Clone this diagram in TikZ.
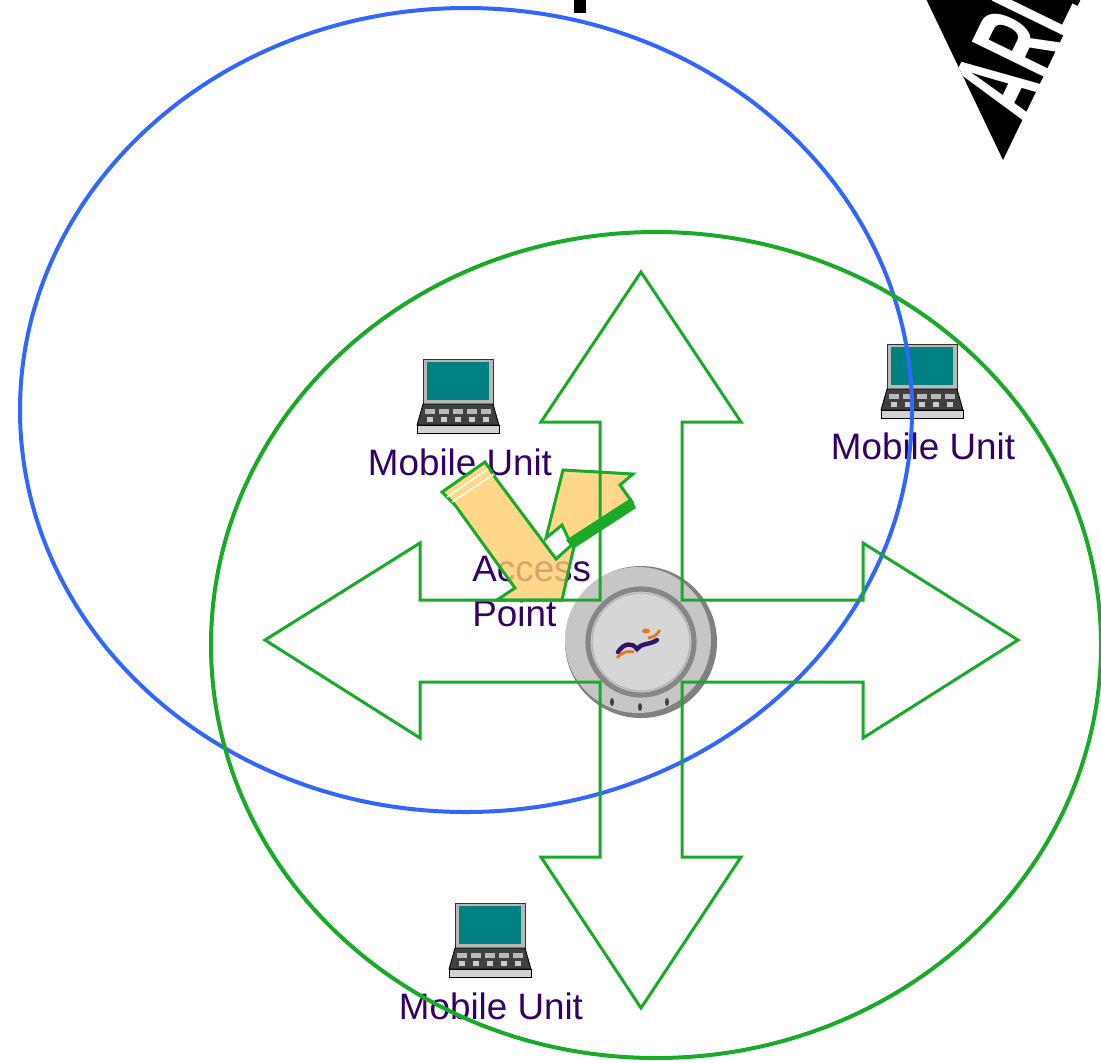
\documentclass[tikz,border=0pt]{standalone}
\usepackage{fontspec}
\setmainfont{Liberation Sans}
\usetikzlibrary{positioning}
\definecolor{cellgreen}{RGB}{24,170,40}
\definecolor{cellblue}{RGB}{51,102,255}
\definecolor{labelpurple}{RGB}{51,0,102}
\definecolor{screenteal}{RGB}{0,128,128}
\definecolor{antennaorange}{RGB}{255,205,110}
\definecolor{swooshpurple}{RGB}{50,20,110}
\definecolor{swooshorange}{RGB}{225,120,30}

\begin{document}
\begin{tikzpicture}[x=0.5pt, y=-0.5pt,
  cell/.style={line width=2pt},
  unit/.style={text=labelpurple, inner sep=0pt, font=\fontsize{18.4}{22.5}\selectfont},
  spread/.style={draw=cellgreen, line width=1.5pt, line join=miter},
  antenna/.style={draw=cellgreen, line width=1.5pt, fill=antennaorange, fill opacity=0.8},
  laptop/.pic={
    \filldraw[fill=gray!55, draw=black!80, line width=0.4pt] (-35,-38) rectangle (35,7);
    \fill[screenteal] (-31,-35) rectangle (31,3);
    \filldraw[fill=black!75, draw=black, line width=0.4pt] (-35,7) -- (35,7) -- (41,28) -- (-41,28) -- cycle;
    \foreach \k in {-28,-14,0,14,28} {
      \fill[gray!55] (\k-5,12) rectangle (\k+5,17);
      \fill[gray!40] (\k-3,20) rectangle (\k+3,25);
    }
    \filldraw[fill=gray!35, draw=black, line width=0.4pt] (-41,28) rectangle (41,36);
  }]

  \path[fill=white] (0,0) rectangle (1101,1062);
  \useasboundingbox (0,0) rectangle (1101,1062);

  % title fragment and logo
  \fill[black] (574,0) rectangle (586,13);
  \fill[black] (917,-20) -- (1090,-20) -- (1003,160) -- cycle;
  \begin{scope}
    \clip (917,-20) -- (1090,-20) -- (1003,160) -- cycle;
    \node[text=white, rotate=64, xscale=0.5, inner sep=0pt,
          font=\bfseries\fontsize{64}{64}\selectfont] (logo) at (1018,48) {ARL};
  \end{scope}

  % mobile units
  \pic at (458,397) {laptop};
  \pic at (922,382) {laptop};
  \pic at (490,941) {laptop};
  \node[unit] (mu1) at (460,462) {Mobile Unit};
  \node[unit] (mu2) at (923,446) {Mobile Unit};
  \node[unit] (mu3) at (491,1006) {Mobile Unit};

  % coverage cells
  \draw[cell, cellblue] (466,410) ellipse[x radius=446, y radius=402];
  \draw[cell, cellgreen] (656,645) ellipse[x radius=445, y radius=413];

  % access point
  \fill[gray!100] (641,642) circle[radius=76];
  \fill[gray!45] (638,640) circle[radius=73];
  \fill[gray!32] (641,642) circle[radius=53];
  \draw[gray!95, line width=2.6pt] (641,642) circle[radius=53];
  \draw[gray!60, line width=0.6pt] (641,642) circle[radius=49];
  \foreach \dx/\dy in {612/702, 640/707, 667/702}
    \fill[gray!50!black] (\dx,\dy) ellipse[x radius=2, y radius=4];
  \fill[swooshorange] (646,631) ellipse[x radius=4, y radius=2.5];
  \draw[swooshorange, line width=1.4pt] (648,638) .. controls (654,637) and (657,635) .. (660,630);
  \draw[swooshpurple, line width=2.2pt, line cap=round] (618,652) .. controls (624,643) and (632,642) .. (637,649)
    .. controls (641,643) and (650,645) .. (657,640);
  \draw[swooshorange, line width=1.4pt] (617,658) .. controls (623,651) and (628,651) .. (634,652);

  \node[unit, anchor=west, align=left] (ap) at (472,592) {Access\\Point};

  % antenna
  \path[antenna] (442,492) -- (485,462) -- (497,480) -- (556,559) -- (575,542)
    -- (562,600) -- (497,600) -- (515,588) -- (455,505) -- cycle;
  \draw[white, line width=0.7pt] (447,497) -- (488,469) (452,502) -- (494,474);
  \path[antenna] (546,538) -- (563,470) -- (633,474) -- (620,485) -- (632,502)
    -- (570,542) -- (562,525) -- cycle;
  \fill[cellgreen] (631,498) -- (566,540) -- (573,549) -- (636,508) -- cycle;

  % radio spread
  \draw[spread] (641,272) -- (741,422) -- (682,422) -- (682,600) -- (863,600) -- (863,543)
    -- (1018,640) -- (863,738) -- (863,682) -- (682,682) -- (682,857) -- (741,857)
    -- (641,1008) -- (541,857) -- (600,857) -- (600,682) -- (420,682) -- (420,738)
    -- (265,640) -- (420,543) -- (420,600) -- (600,600) -- (600,422) -- (541,422) -- cycle;
\end{tikzpicture}
\end{document}
